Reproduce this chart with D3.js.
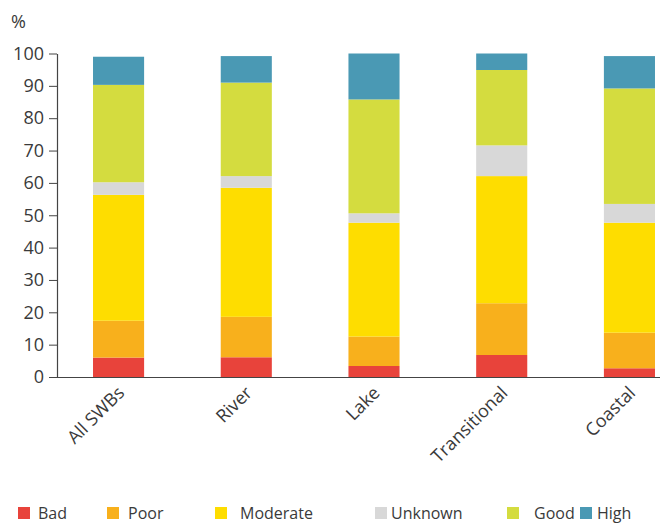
<!DOCTYPE html>
<html><head><meta charset="utf-8">
<script src="https://cdn.jsdelivr.net/npm/d3@7/dist/d3.min.js"></script>
<style>
body{margin:0;background:#fff;}
svg{display:block;font-family:"Open Sans",sans-serif;}
</style></head><body>
<svg id="chart" width="660" height="525"></svg>
<script>
const categories = ["All SWBs","River","Lake","Transitional","Coastal"];
const statuses = ["Bad","Poor","Moderate","Unknown","Good","High"];
const bad      = [6.0, 6.1, 3.4, 6.8, 2.7];
const poor     = [11.4,12.5, 9.1,16.0,11.0];
const moderate = [38.9,39.9,35.2,39.3,34.0];
const unknown  = [3.9, 3.6, 2.9, 9.5, 5.8];
const good     = [30.1,28.9,35.2,23.3,35.7];
const high     = [8.7, 8.2,14.2, 5.1,10.0];
const yTicks = [0,10,20,30,40,50,60,70,80,90,100];
const colors = ["#e8433b","#f8b01c","#fedd00","#d8d8d8","#d4dc3f","#4a99b4"];

const seriesVals = [bad,poor,moderate,unknown,good,high];
const rows = categories.map((c,i)=>{const r={cat:c}; statuses.forEach((s,j)=>r[s]=seriesVals[j][i]); return r;});
const stack = d3.stack().keys(statuses)(rows);

const svg = d3.select("#chart");
const x = d3.scaleBand().domain(categories).range([57,691]).paddingInner(0.6).paddingOuter(0.282);
const y = d3.scaleLinear().domain([0,100]).range([377,53.5]);
const color = d3.scaleOrdinal().domain(statuses).range(colors);

svg.append("g").selectAll("g").data(stack).join("g")
  .attr("fill",d=>color(d.key))
  .selectAll("rect").data(d=>d).join("rect")
  .attr("x",d=>x(d.data.cat)).attr("width",x.bandwidth())
  .attr("y",d=>y(d[1])).attr("height",d=>y(d[0])-y(d[1]));

const txt = "#3a3a3a";
// y axis
const ya = svg.append("g").attr("transform","translate(57,0)")
  .call(d3.axisLeft(y).tickValues(yTicks).tickSize(8).tickPadding(5).tickSizeOuter(0));
ya.select(".domain").attr("stroke","#444").attr("stroke-width",1.2);
ya.selectAll(".tick line").attr("stroke","#444");
ya.selectAll(".tick text").attr("fill",txt).style("font-size","18px").attr("font-family","Open Sans");

// x axis
const xa = svg.append("g").attr("transform","translate(0,377)")
  .call(d3.axisBottom(x).tickSize(0).tickSizeOuter(0));
xa.select(".domain").attr("stroke","#444").attr("stroke-width",1.2).attr("d","M57,0.5H660");
xa.selectAll(".tick text").attr("fill",txt).style("font-size","18px").attr("font-family","Open Sans")
  .attr("text-anchor","end").attr("dy",null).attr("y",null)
  .attr("transform","translate(7,17) rotate(-45)");

svg.append("text").attr("x",11).attr("y",28).text("%")
  .attr("fill",txt).style("font-size","18px");

// legend
const legSq = [18,107,215,375,507,580];
const legTx = [38,128,240,391,534,597];
const leg = svg.append("g").selectAll("g").data(statuses).join("g");
leg.append("rect").attr("x",(d,i)=>legSq[i]).attr("y",507).attr("width",12).attr("height",12).attr("fill",d=>color(d));
leg.append("text").attr("x",(d,i)=>legTx[i]).attr("y",519).text(d=>d)
  .attr("fill",txt).style("font-size","16px");
</script></body></html>
